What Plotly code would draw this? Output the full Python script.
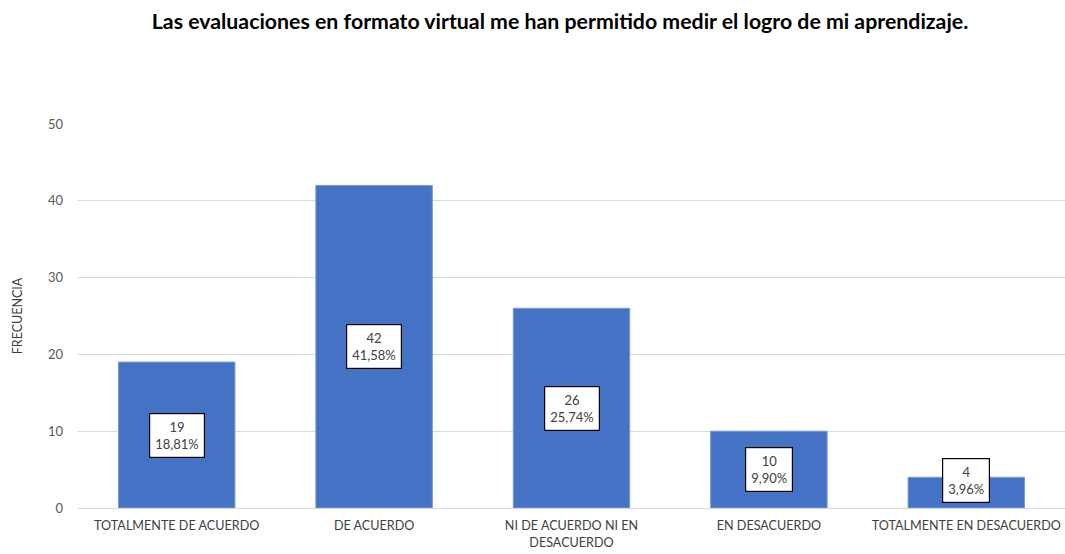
import plotly.graph_objects as go

categories = ["TOTALMENTE DE ACUERDO", "DE ACUERDO", "NI DE ACUERDO NI EN<br>DESACUERDO",
              "EN DESACUERDO", "TOTALMENTE EN DESACUERDO"]
frecuencia = [19, 42, 26, 10, 4]
porcentaje = ["18,81%", "41,58%", "25,74%", "9,90%", "3,96%"]
y_ticks = [0, 10, 20, 30, 40, 50]

FONT = "Lato, Open Sans, sans-serif"
W, H = 1065, 554

fig = go.Figure()
fig.add_trace(go.Bar(
    x=categories, y=frecuencia, width=0.59,
    marker=dict(color="#4472C4", line=dict(color="#7B9AD6", width=1)),
    hoverinfo="skip",
))

for c, v, p in zip(categories, frecuencia, porcentaje):
    fig.add_annotation(
        x=c, y=max(v / 2, 3.6), text=f"{v}<br>{p}", showarrow=False,
        xref="x", yref="y", yanchor="middle",
        font=dict(family=FONT, size=13, color="#404040"),
        bgcolor="white", bordercolor="black", borderwidth=1.2, borderpad=5,
    )

fig.update_layout(
    width=W, height=H,
    margin=dict(l=78, r=0, t=124, b=46),
    paper_bgcolor="white", plot_bgcolor="white",
    showlegend=False,
    title=dict(text="<b>Las evaluaciones en formato virtual me han permitido medir el logro de mi aprendizaje.</b>",
               x=560 / W, xanchor="center", y=1 - 22 / H, yanchor="middle",
               font=dict(family=FONT, size=21.3, color="black")),
)
fig.update_yaxes(
    range=[0, 50], tickvals=y_ticks, showgrid=True, gridcolor="#D9D9D9", gridwidth=1,
    zeroline=False, showline=False, ticks="", ticklabelstandoff=14, automargin=False,
    tickfont=dict(family=FONT, size=13, color="#595959"),
    title=dict(text="FRECUENCIA", standoff=22,
               font=dict(family=FONT, size=12.5, color="#404040")),
)
fig.update_xaxes(
    showline=True, linecolor="#D9D9D9", linewidth=1, ticks="", automargin=False,
    ticklabelstandoff=6,
    tickfont=dict(family=FONT, size=12.6, color="#404040"),
)

fig.write_html(
    "out.html",
    config={"displayModeBar": False},
    post_script="document.body.style.margin='0';document.body.style.overflow='hidden';",
)
